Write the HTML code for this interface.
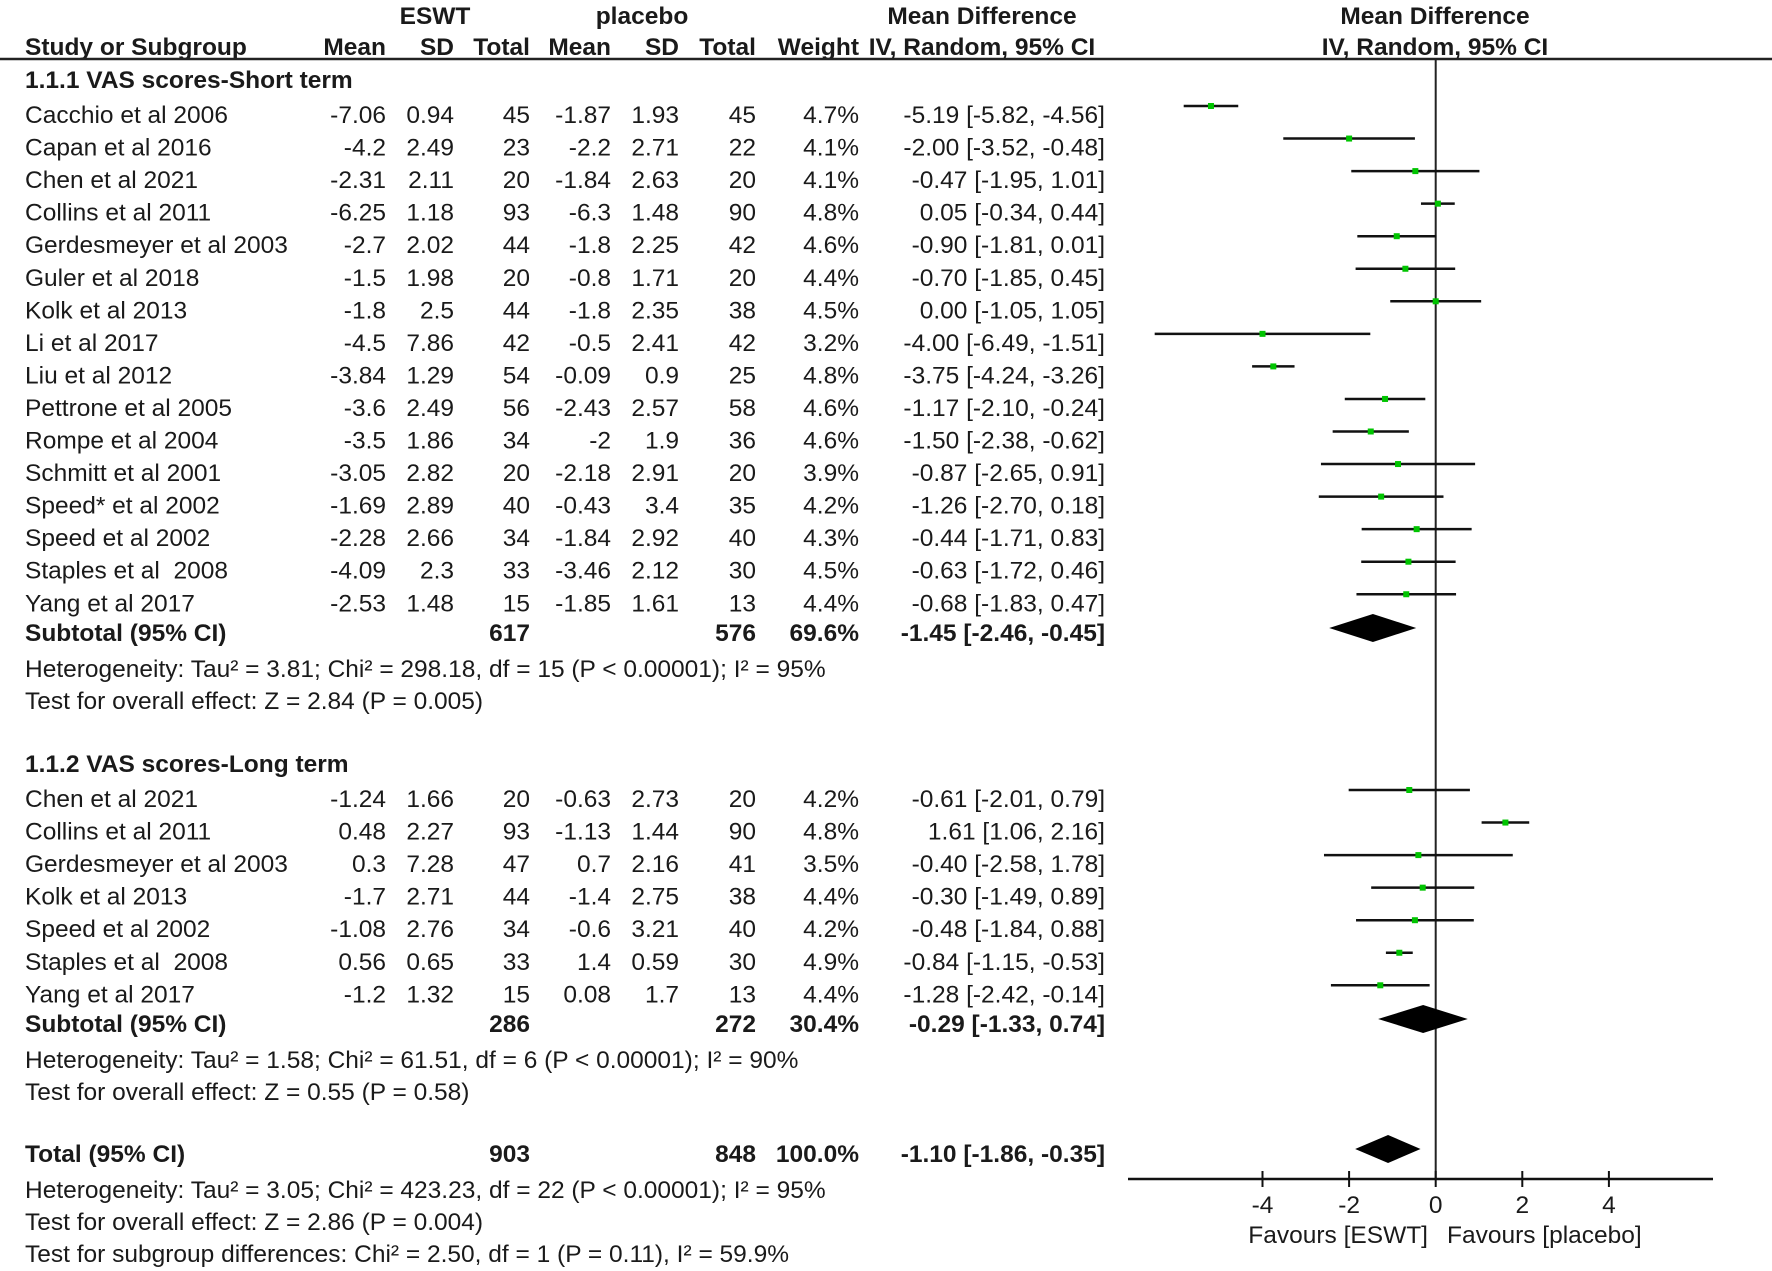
<!DOCTYPE html>
<html><head><meta charset="utf-8"><style>
html,body{margin:0;padding:0;background:#fff;}
svg{display:block;font-family:"Liberation Sans",Arial,sans-serif;}
text{font-size:24.5px;fill:#1a1a1a;}
.b{font-weight:bold;}
</style></head><body>
<svg id="c" width="1772" height="1271" viewBox="0 0 1772 1271" xmlns="http://www.w3.org/2000/svg"></svg>
<script>
const names1=["Cacchio et al 2006","Capan et al 2016","Chen et al 2021","Collins et al 2011","Gerdesmeyer et al 2003","Guler et al 2018","Kolk et al 2013","Li et al 2017","Liu et al 2012","Pettrone et al 2005","Rompe et al 2004","Schmitt et al 2001","Speed* et al 2002","Speed et al 2002","Staples et al\u00a0 2008","Yang et al 2017"];
const eMean1=["-7.06","-4.2","-2.31","-6.25","-2.7","-1.5","-1.8","-4.5","-3.84","-3.6","-3.5","-3.05","-1.69","-2.28","-4.09","-2.53"];
const eSD1=["0.94","2.49","2.11","1.18","2.02","1.98","2.5","7.86","1.29","2.49","1.86","2.82","2.89","2.66","2.3","1.48"];
const eN1=[45,23,20,93,44,20,44,42,54,56,34,20,40,34,33,15];
const pMean1=["-1.87","-2.2","-1.84","-6.3","-1.8","-0.8","-1.8","-0.5","-0.09","-2.43","-2","-2.18","-0.43","-1.84","-3.46","-1.85"];
const pSD1=["1.93","2.71","2.63","1.48","2.25","1.71","2.35","2.41","0.9","2.57","1.9","2.91","3.4","2.92","2.12","1.61"];
const pN1=[45,22,20,90,42,20,38,42,25,58,36,20,35,40,30,13];
const w1=["4.7%","4.1%","4.1%","4.8%","4.6%","4.4%","4.5%","3.2%","4.8%","4.6%","4.6%","3.9%","4.2%","4.3%","4.5%","4.4%"];
const md1=[-5.19,-2.00,-0.47,0.05,-0.90,-0.70,0.00,-4.00,-3.75,-1.17,-1.50,-0.87,-1.26,-0.44,-0.63,-0.68];
const lo1=[-5.82,-3.52,-1.95,-0.34,-1.81,-1.85,-1.05,-6.49,-4.24,-2.10,-2.38,-2.65,-2.70,-1.71,-1.72,-1.83];
const hi1=[-4.56,-0.48,1.01,0.44,0.01,0.45,1.05,-1.51,-3.26,-0.24,-0.62,0.91,0.18,0.83,0.46,0.47];

const names2=["Chen et al 2021","Collins et al 2011","Gerdesmeyer et al 2003","Kolk et al 2013","Speed et al 2002","Staples et al\u00a0 2008","Yang et al 2017"];
const eMean2=["-1.24","0.48","0.3","-1.7","-1.08","0.56","-1.2"];
const eSD2=["1.66","2.27","7.28","2.71","2.76","0.65","1.32"];
const eN2=[20,93,47,44,34,33,15];
const pMean2=["-0.63","-1.13","0.7","-1.4","-0.6","1.4","0.08"];
const pSD2=["2.73","1.44","2.16","2.75","3.21","0.59","1.7"];
const pN2=[20,90,41,38,40,30,13];
const w2=["4.2%","4.8%","3.5%","4.4%","4.2%","4.9%","4.4%"];
const md2=[-0.61,1.61,-0.40,-0.30,-0.48,-0.84,-1.28];
const lo2=[-2.01,1.06,-2.58,-1.49,-1.84,-1.15,-2.42];
const hi2=[0.79,2.16,1.78,0.89,0.88,-0.53,-0.14];

const diamondMd=[-1.45,-0.29,-1.10];
const diamondLo=[-2.46,-1.33,-1.86];
const diamondHi=[-0.45,0.74,-0.35];
const ticks=[-4,-2,0,2,4];

const svg=document.getElementById('c');
const NS="http://www.w3.org/2000/svg";
const X0=1435.7, U=43.3, BO=9;
function xs(v){return X0+v*U;}
function el(tag,attrs,parent){const e=document.createElementNS(NS,tag);for(const k in attrs)e.setAttribute(k,attrs[k]);(parent||svg).appendChild(e);return e;}
function txt(s,x,cy,anchor,bold){const t=el('text',{x:x,y:cy+BO,'text-anchor':anchor||'start'});if(bold)t.setAttribute('class','b');t.textContent=s;return t;}

let t;
t=txt("ESWT",435,15,'middle',true);


t=txt("placebo",642,15,'middle',true);


t=txt("Mean Difference",982,15,'middle',true);


t=txt("Mean Difference",1435,15,'middle',true);


const hy=46;
const hdr=[["Study or Subgroup",25,'start'],["Mean",386,'end'],["SD",454,'end'],["Total",530,'end'],["Mean",611,'end'],["SD",679,'end'],["Total",756,'end'],["Weight",859,'end'],["IV, Random, 95% CI",982,'middle'],["IV, Random, 95% CI",1435,'middle']];
hdr.forEach(h=>{const e=txt(h[0],h[1],hy,h[2],true);

});
let ln=el('line',{x1:0,y1:59,x2:1772,y2:59,stroke:'#222','stroke-width':2.5});


ln=el('line',{x1:X0,y1:59,x2:X0,y2:1179,stroke:'#222','stroke-width':2});


ln=el('line',{x1:1128,y1:1179,x2:1713,y2:1179,stroke:'#111','stroke-width':2.5});


ticks.forEach(v=>{
  const tk=el('line',{x1:xs(v),y1:1171,x2:xs(v),y2:1187,stroke:'#111','stroke-width':2});
  
  
  const tl=txt(String(v),xs(v),1204,'middle');
  
  
});
t=txt("Favours [ESWT]",1428,1234,'end');


t=txt("Favours [placebo]",1447,1234,'start');



function fmt(v){return v.toFixed(2);}
function ciText(m,l,h){return fmt(m)+" ["+fmt(l)+", "+fmt(h)+"]";}
function studyRows(names,em,es,en,pm,ps,pn,w,md,lo,hi,y0){
  names.forEach((n,i)=>{
    const cy=y0+i*32.55;
    const g=el('g',{});
    
    
    const cells=[[n,25,'start'],[em[i],386,'end'],[es[i],454,'end'],[String(en[i]),530,'end'],[pm[i],611,'end'],[ps[i],679,'end'],[String(pn[i]),756,'end'],[w[i],859,'end'],[ciText(md[i],lo[i],hi[i]),1105,'end']];
    cells.forEach(c=>{const e=el('text',{x:c[1],y:cy+BO,'text-anchor':c[2]},g);e.textContent=c[0];});
    const ly=cy-8;
    const ci=el('line',{x1:xs(lo[i]),y1:ly,x2:xs(hi[i]),y2:ly,stroke:'#111','stroke-width':2.5},g);
    
    
    const pt=el('rect',{x:xs(md[i])-3,y:ly-3,width:6,height:6,fill:'#00c400'},g);
    
    
  });
}
function diamond(k,cy){
  const p=el('polygon',{points:[xs(diamondLo[k])+','+cy,xs(diamondMd[k])+','+(cy-14),xs(diamondHi[k])+','+cy,xs(diamondMd[k])+','+(cy+14)].join(' '),fill:'#000'});
  
  
}
function subtotal(label,n1,n2,wt,k,cy){
  const cells=[[label,25,'start'],[n1,530,'end'],[n2,756,'end'],[wt,859,'end'],[ciText(diamondMd[k],diamondLo[k],diamondHi[k]),1105,'end']];
  cells.forEach(c=>{const e=txt(c[0],c[1],cy,c[2],true);
    
    });
  diamond(k,cy-4);
}
function note(s,cy,name){const e=txt(s,25,cy,'start');
  
  }

t=txt("1.1.1 VAS scores-Short term",25,79,'start',true);


studyRows(names1,eMean1,eSD1,eN1,pMean1,pSD1,pN1,w1,md1,lo1,hi1,114);
subtotal("Subtotal (95% CI)","617","576","69.6%",0,632);
note("Heterogeneity: Tau² = 3.81; Chi² = 298.18, df = 15 (P < 0.00001); I² = 95%",668,'heterogeneity-short');
note("Test for overall effect: Z = 2.84 (P = 0.005)",700,'overall-effect-short');

t=txt("1.1.2 VAS scores-Long term",25,763,'start',true);


studyRows(names2,eMean2,eSD2,eN2,pMean2,pSD2,pN2,w2,md2,lo2,hi2,798);
subtotal("Subtotal (95% CI)","286","272","30.4%",1,1023);
note("Heterogeneity: Tau² = 1.58; Chi² = 61.51, df = 6 (P < 0.00001); I² = 90%",1059,'heterogeneity-long');
note("Test for overall effect: Z = 0.55 (P = 0.58)",1091,'overall-effect-long');

subtotal("Total (95% CI)","903","848","100.0%",2,1153);
note("Heterogeneity: Tau² = 3.05; Chi² = 423.23, df = 22 (P < 0.00001); I² = 95%",1189,'heterogeneity-total');
note("Test for overall effect: Z = 2.86 (P = 0.004)",1221,'overall-effect-total');
note("Test for subgroup differences: Chi² = 2.50, df = 1 (P = 0.11), I² = 59.9%",1253,'subgroup-differences');
</script>
</body></html>
